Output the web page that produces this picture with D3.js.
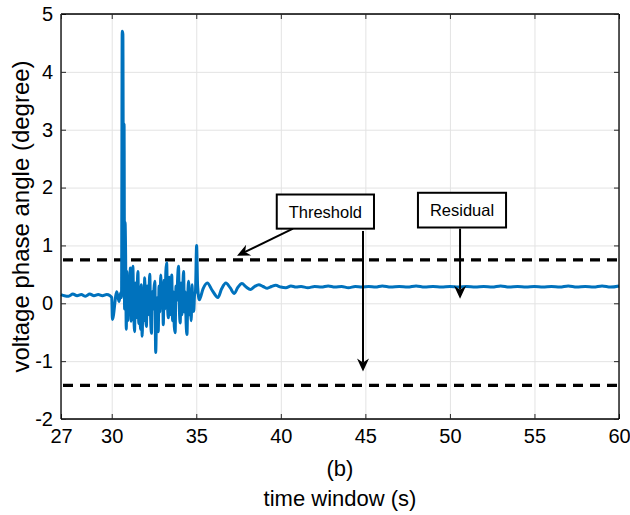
<!DOCTYPE html>
<html>
<head>
<meta charset="utf-8">
<script src="https://cdn.jsdelivr.net/npm/d3@7"></script>
<style>
  body { margin: 0; background: #fff; }
  text { font-family: "Liberation Sans", Arial, Helvetica, sans-serif; fill: #000; }
</style>
</head>
<body>
<svg></svg>
<script>
const w = 630
const h = 515

// data
const time = [
  27.0, 27.2, 27.45, 27.7, 27.95, 28.2, 28.45, 28.7, 28.95, 29.2, 29.45, 29.7, 29.9, 30.0,
  30.04, 30.3, 30.43, 30.53, 30.58, 30.62, 30.66, 30.7, 30.73, 30.76, 30.79, 30.82,
  30.86, 30.9, 30.95, 31.0, 31.05, 31.1, 31.15, 31.2, 31.25, 31.3, 31.35, 31.4, 31.45, 31.5,
  31.55, 31.6, 31.65, 31.7, 31.75, 31.8, 31.85, 31.9, 31.95, 32.0, 32.05, 32.1, 32.15, 32.2,
  32.25, 32.3, 32.35, 32.4, 32.45, 32.5, 32.55, 32.6, 32.65, 32.7, 32.75, 32.8, 32.85, 32.9,
  32.95, 33.0, 33.05, 33.1, 33.15, 33.2, 33.25, 33.3, 33.35, 33.4, 33.45, 33.5, 33.55, 33.6,
  33.65, 33.7, 33.75, 33.8, 33.85, 33.9, 33.95, 34.0, 34.05, 34.1, 34.15, 34.2, 34.25, 34.3,
  34.35, 34.4, 34.45, 34.5, 34.55, 34.6, 34.65, 34.7, 34.75, 34.8, 34.85, 34.9, 34.95,
  35.02, 35.08, 35.18, 35.4, 35.65, 35.95, 36.28, 36.5, 36.75, 37.0, 37.25, 37.45, 37.7,
  37.95, 38.2, 38.45, 38.7, 38.95, 39.2, 39.45, 39.7, 40.0, 40.3, 40.6, 40.9, 41.2, 41.6,
  42.0, 42.4, 42.8, 43.2, 43.6, 44.0, 44.4, 44.8, 45.2, 45.6, 46.0, 46.5, 47.0, 47.5, 48.0,
  48.5, 49.0, 49.5, 50.0, 50.5, 51.0, 51.5, 52.0, 52.5, 53.0, 53.5, 54.0, 54.5, 55.0, 55.5,
  56.0, 56.5, 57.0, 57.5, 58.0, 58.5, 59.0, 59.5, 60.0
]
const angle = [
  0.15, 0.13, 0.12, 0.16, 0.13, 0.15, 0.12, 0.16, 0.13, 0.15, 0.13, 0.15, 0.13, 0.10,
  -0.28, 0.20, 0.03, 0.18, 0.10, 4.70, 4.65, 0.20, 3.10, -0.10, 1.40, 0.90,
  -0.45, 0.55, -0.30, 0.45, -0.20, 0.61, -0.31, 0.30, 0.64, -0.10, -0.49, 0.35, -0.25, 0.20,
  0.55, -0.35, 0.10, -0.45, 0.32, -0.57, 0.05, -0.30, 0.44, -0.15, -0.40, 0.30, -0.20, 0.15,
  0.50, -0.25, -0.52, 0.20, -0.10, 0.25, 0.38, -0.85, -0.20, 0.10, -0.49, 0.30, -0.15, 0.49,
  -0.05, 0.35, -0.37, 0.40, -0.10, 0.55, 0.70, -0.05, -0.25, 0.45, 0.10, -0.20, 0.49, -0.30,
  0.20, -0.40, -0.51, 0.30, 0.05, 0.45, 0.64, -0.10, -0.34, 0.35, -0.20, 0.25, 0.55, -0.15,
  0.20, -0.35, -0.54, 0.15, 0.38, -0.20, 0.10, -0.30, 0.32, -0.10, -0.14, 0.15, 0.20,
  1.00, 0.30, 0.06, 0.25, 0.35, 0.22, 0.10, 0.25, 0.35, 0.27, 0.17, 0.27, 0.34,
  0.28, 0.24, 0.29, 0.32, 0.29, 0.26, 0.29, 0.31, 0.28, 0.27, 0.30, 0.28, 0.29, 0.27,
  0.29, 0.28, 0.30, 0.28, 0.29, 0.27, 0.29, 0.28, 0.29, 0.28, 0.30, 0.28, 0.29, 0.28, 0.30,
  0.28, 0.29, 0.28, 0.29, 0.28, 0.29, 0.28, 0.29, 0.28, 0.30, 0.28, 0.29, 0.28, 0.29, 0.28,
  0.29, 0.28, 0.30, 0.28, 0.29, 0.28, 0.30, 0.28, 0.30
]
const thresholds = [0.75, -1.42]
const xTicks = [27, 30, 35, 40, 45, 50, 55, 60]
const yTicks = [-2, -1, 0, 1, 2, 3, 4, 5]

const svg = d3.select('svg')
  .attr('width', w)
  .attr('height', h);

const margin = {top: 14, right: 11, bottom: 96, left: 61};
const innerWidth = w - margin.left - margin.right;
const innerHeight = h - margin.top - margin.bottom;

const xScale = d3.scaleLinear()
  .domain([27, 60])
  .range([0, innerWidth])

const yScale = d3.scaleLinear()
  .domain([-2, 5])
  .range([innerHeight, 0])

const g = svg.append('g')
  .attr('transform', `translate(${margin.left}, ${margin.top})`);

// grid
const gridX = g.append('g')
  .attr('transform', `translate(0, ${innerHeight})`)
  .call(d3.axisBottom(xScale).tickValues(xTicks).tickSize(-innerHeight))
const gridY = g.append('g')
  .call(d3.axisLeft(yScale).tickValues(yTicks).tickSize(-innerWidth))
;[gridX, gridY].forEach(a => {
  a.select('.domain').remove()
  a.selectAll('text').remove()
  a.selectAll('line').attr('stroke', '#e3e3e3').attr('stroke-width', 1)
})

// thresholds
g.selectAll('.thr').data(thresholds)
  .enter().append('line')
  .attr('class', 'thr')
  .attr('x1', xScale(27) + 2)
  .attr('x2', xScale(60))
  .attr('y1', d => yScale(d))
  .attr('y2', d => yScale(d))
  .attr('stroke', '#000')
  .attr('stroke-width', 3.2)
  .attr('stroke-dasharray', '10,7')

// signal
const series = time.map((t, i) => ({t, v: angle[i]}))
const lineGen = d3.line()
  .x(d => xScale(d.t))
  .y(d => yScale(d.v))
  .curve(d3.curveMonotoneX)

g.append('path')
  .attr('d', lineGen(series))
  .attr('fill', 'none')
  .attr('stroke', '#0072BD')
  .attr('stroke-width', 3)
  .attr('stroke-linejoin', 'round')

// axes, ticks inward
const fmt = d => String(d)
const bottomAxis = g.append('g')
  .attr('transform', `translate(0, ${innerHeight})`)
  .call(d3.axisBottom(xScale).tickValues(xTicks).tickSize(-5).tickPadding(10).tickFormat(fmt))
const leftAxis = g.append('g')
  .call(d3.axisLeft(yScale).tickValues(yTicks).tickSize(-5).tickPadding(8).tickFormat(fmt))
const topAxis = g.append('g')
  .call(d3.axisTop(xScale).tickValues(xTicks).tickSize(-5))
const rightAxis = g.append('g')
  .attr('transform', `translate(${innerWidth}, 0)`)
  .call(d3.axisRight(yScale).tickValues(yTicks).tickSize(-5))
topAxis.selectAll('text').remove()
rightAxis.selectAll('text').remove()
;[bottomAxis, leftAxis, topAxis, rightAxis].forEach(a => {
  a.select('.domain').attr('stroke', '#000').attr('stroke-width', 1.3)
  a.selectAll('line').attr('stroke', '#262626')
  a.attr('font-family', null).attr('font-size', null)
  a.selectAll('text').style('font-size', '20px').attr('fill', '#000')
})
bottomAxis.selectAll('.domain').attr('d', `M0,0H${innerWidth}`)
topAxis.selectAll('.domain').attr('d', `M0,0H${innerWidth}`)
leftAxis.selectAll('.domain').attr('d', `M0,0V${innerHeight}`)
rightAxis.selectAll('.domain').attr('d', `M0,0V${innerHeight}`)

// annotations
const annBoxes = [
  {label: 'Threshold', t0: 39.76, t1: 45.51, v0: 1.29, v1: 1.88},
  {label: 'Residual', t0: 48.11, t1: 53.32, v0: 1.31, v1: 1.91}
]
const annArrows = [
  {t0: 40.72, v0: 1.29, t1: 37.41, v1: 0.82},
  {t0: 44.86, v0: 1.25, t1: 44.86, v1: -1.18},
  {t0: 50.60, v0: 1.29, t1: 50.60, v1: 0.08}
]

annArrows.forEach(a => {
  const x0 = xScale(a.t0), y0 = yScale(a.v0)
  const x1 = xScale(a.t1), y1 = yScale(a.v1)
  const ang = Math.atan2(y1 - y0, x1 - x0)
  const len = 13, half = 6, notch = 4
  const ux = Math.cos(ang), uy = Math.sin(ang)
  const bx = x1 - ux * len, by = y1 - uy * len
  const nx = x1 - ux * (len - notch), ny = y1 - uy * (len - notch)
  g.append('line')
    .attr('x1', x0).attr('y1', y0)
    .attr('x2', nx).attr('y2', ny)
    .attr('stroke', '#000').attr('stroke-width', 2)
  g.append('path')
    .attr('d', `M${x1},${y1}L${bx - uy * half},${by + ux * half}L${nx},${ny}L${bx + uy * half},${by - ux * half}Z`)
    .attr('fill', '#000')
})

annBoxes.forEach(b => {
  const x0 = xScale(b.t0), x1 = xScale(b.t1)
  const y0 = yScale(b.v1), y1 = yScale(b.v0)
  g.append('rect')
    .attr('x', x0).attr('y', y0)
    .attr('width', x1 - x0).attr('height', y1 - y0)
    .attr('fill', '#fff')
    .attr('stroke', '#000').attr('stroke-width', 2)
  g.append('text')
    .attr('x', (x0 + x1) / 2)
    .attr('y', (y0 + y1) / 2)
    .attr('dy', '0.36em')
    .attr('text-anchor', 'middle')
    .attr('font-size', '16.5px')
    .text(b.label)
})

// labels
svg.append('text')
  .attr('transform', `translate(21, ${margin.top + innerHeight / 2}) rotate(-90)`)
  .attr('text-anchor', 'middle')
  .attr('dy', '0.35em')
  .attr('font-size', '24px')
  .text('voltage phase angle (degree)')

svg.append('text')
  .attr('x', margin.left + innerWidth / 2)
  .attr('y', 468)
  .attr('dy', '0.35em')
  .attr('text-anchor', 'middle')
  .attr('font-size', '22px')
  .text('(b)')

svg.append('text')
  .attr('x', margin.left + innerWidth / 2)
  .attr('y', 498)
  .attr('dy', '0.35em')
  .attr('text-anchor', 'middle')
  .attr('font-size', '22px')
  .text('time window (s)')
</script>
</body>
</html>
